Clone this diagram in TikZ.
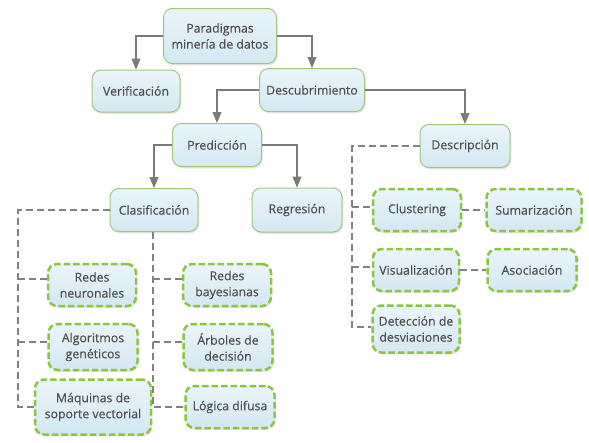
\documentclass[tikz,border=0pt]{standalone}
\usepackage{fontspec}
\setmainfont{Open Sans}[BoldFont={Open Sans}, BoldFeatures={FakeBold=0.35}]
\usetikzlibrary{arrows.meta,shadows,calc}
\definecolor{txt}{HTML}{505050}
\definecolor{boxtop}{HTML}{EAF5FA}
\definecolor{boxbot}{HTML}{D3E8F2}
\definecolor{solidgreen}{HTML}{9FC77F}
\definecolor{dashgreen}{HTML}{8CC542}
\definecolor{con}{HTML}{7A7A7A}
\tikzset{
  box/.style={rounded corners=9pt, top color=boxtop, bottom color=boxbot,
    draw=solidgreen, line width=1pt, align=center, text=txt,
    font=\fontsize{12.3}{16}\selectfont\bfseries, inner sep=2pt,
    drop shadow={opacity=0.2, shadow xshift=1.2pt, shadow yshift=-1.8pt}},
  leaf/.style={box, draw=dashgreen, line width=2.5pt, dash pattern=on 6.5pt off 3pt},
  arr/.style={draw=con, line width=1.1pt, -{Triangle[width=9pt,length=11pt]}},
  dcon/.style={draw=con!95, line width=2.4pt, dash pattern=on 7pt off 4pt}
}
\begin{document}
\begin{tikzpicture}[x=1pt,y=-1pt]
\useasboundingbox[fill=white] (0,0) rectangle (589,442);
% top levels
\node[box, minimum width=113pt, minimum height=55pt] (par) at (220,36) {Paradigmas\\minería de datos};
\node[box, minimum width=88pt, minimum height=42pt] (ver) at (136,91) {Verificación};
\node[box, minimum width=105pt, minimum height=43pt] (des) at (312,90) {Descubrimiento};
\node[box, minimum width=89pt, minimum height=43pt] (pred) at (217,145) {Predicción};
\node[box, minimum width=90pt, minimum height=43pt] (descr) at (465,146) {Descripción};
\node[box, minimum width=88pt, minimum height=43pt] (clas) at (154,210) {Clasificación};
\node[box, minimum width=90pt, minimum height=44pt] (reg) at (297,210) {Regresión};
% right leaves
\node[leaf, minimum width=88pt, minimum height=42pt] (clus) at (417,210) {Clustering};
\node[leaf, minimum width=95pt, minimum height=42pt] (sum) at (534,210) {Sumarización};
\node[leaf, minimum width=86pt, minimum height=42pt] (vis) at (416,270) {Visualización};
\node[leaf, minimum width=89pt, minimum height=42pt] (aso) at (532,270) {Asociación};
\node[leaf, minimum width=87pt, minimum height=47pt] (det) at (416,329) {Detección de\\desviaciones};
% left leaves
\node[leaf, minimum width=88pt, minimum height=42pt] (rn) at (92,285) {Redes\\neuronales};
\node[leaf, minimum width=88pt, minimum height=42pt] (rb) at (227,285) {Redes\\bayesianas};
\node[leaf, minimum width=89pt, minimum height=46pt] (ag) at (93,347) {Algoritmos\\genéticos};
\node[leaf, minimum width=89pt, minimum height=46pt] (ad) at (228,347) {Árboles de\\decisión};
\node[leaf, minimum width=116pt, minimum height=55pt] (msv) at (93,407) {Máquinas de\\soporte vectorial};
\node[leaf, minimum width=89pt, minimum height=42pt] (ld) at (230,407) {Lógica difusa};
% solid arrows
\draw[arr] (par.west) -| (ver.north);
\draw[arr] (par.east) -| (des.north);
\draw[arr] (des.west) -| (pred.north);
\draw[arr] (des.east) -| (descr.north);
\draw[arr] (pred.east) -| (reg.north);
\draw[arr] (pred.west) -| (clas.north);
% dashed connectors, left tree
\coordinate (lx) at (18,0);
\coordinate (mx) at (153,0);
\coordinate (rx) at (352,0);
\draw[dcon] (clas.west) -- (clas.west -| lx) -- (msv.west -| lx) -- (msv.west);
\draw[dcon] ([yshift=6pt]rn.west -| lx) -- ([yshift=6pt]rn.west);
\draw[dcon] ([yshift=5pt]ag.west -| lx) -- ([yshift=5pt]ag.west);
\draw[dcon] (clas.south -| mx) -- (ld.west -| mx) -- (ld.west);
\draw[dcon] ([yshift=6pt]rb.west -| mx) -- ([yshift=6pt]rb.west);
\draw[dcon] ([yshift=5pt]ad.west -| mx) -- ([yshift=5pt]ad.west);
% dashed connectors, right tree
\draw[dcon] (descr.west) -- (descr.west -| rx) -- ([yshift=2pt]det.west -| rx) -- ([yshift=2pt]det.west);
\draw[dcon] ([yshift=3pt]clus.west -| rx) -- ([yshift=3pt]clus.west);
\draw[dcon] ([yshift=3pt]vis.west -| rx) -- ([yshift=3pt]vis.west);
\draw[dcon] (clus.east) -- (sum.west);
\draw[dcon] (vis.east) -- (aso.west);
\end{tikzpicture}
\end{document}
